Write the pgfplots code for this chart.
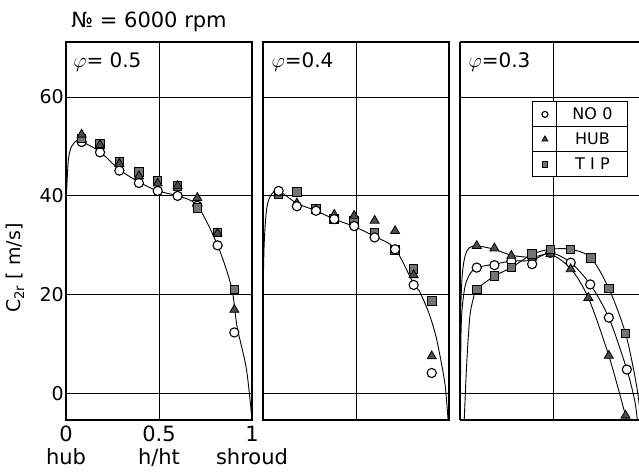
\documentclass[border=0pt]{standalone}
\usepackage{fontspec}
\setmainfont{DejaVu Sans}
\usepackage{pgfplots}
\pgfplotsset{compat=1.18}
\pgfplotsset{
  panel/.style={scale only axis, width=186pt, height=378pt,
    xmin=0, xmax=1, ymin=-5.3, ymax=71.1,
    grid=major, major grid style={black, line width=0.8pt},
    axis line style={line width=1.3pt},
    major tick length=0pt,
    xtick={0,0.5,1}, ytick={0,20,40,60},
    xticklabels={}, yticklabels={}},
  s0/.style={only marks, mark=*, mark size=4.6pt, mark options={fill=white, draw=black, line width=1.1pt}},
  s1/.style={only marks, mark=triangle*, mark size=5.2pt, mark options={fill=black!70, draw=black, line width=0.8pt}},
  s2/.style={only marks, mark=square*, mark size=4.3pt, mark options={fill=black!55, draw=black, line width=1pt}},
  crv/.style={black, line width=0.9pt, smooth, no markers, forget plot},
}
\begin{document}
\begin{tikzpicture}
% ---------- panel 1 ----------
\begin{axis}[panel, at={(0pt,0pt)}, anchor=south west,
  xticklabels={{0\\hub},{0.5\\h/ht},{1\\shroud}},
  yticklabels={0,20,40,60},
  xticklabel style={align=center, font=\fontsize{21}{23}\selectfont, inner sep=2pt, yshift=-4pt},
  yticklabel style={font=\fontsize{19}{22}\selectfont, inner sep=2pt},
  clip mode=individual]
\addplot[crv] coordinates {(0,38)(0.012,47)(0.03,50)(0.06,51.2)(0.084,51)(0.183,48.9)(0.287,45.3)(0.392,42.8)(0.493,41)(0.6,40)(0.706,38)(0.815,30)(0.89,21.5)(0.92,13.5)(0.97,5)(1,-5.3)};
\addplot[s0] coordinates {(0.084,50.9)(0.183,48.8)(0.287,45.1)(0.392,42.6)(0.493,41.0)(0.600,40.0)(0.706,38.0)(0.815,30.0)(0.905,12.4)};
\addplot[s2] coordinates {(0.084,51.6)(0.183,50.5)(0.287,46.8)(0.392,44.8)(0.493,43.1)(0.600,42.0)(0.706,37.6)(0.815,32.6)(0.905,21.1)};
\addplot[s1] coordinates {(0.084,52.4)(0.183,50.3)(0.287,46.5)(0.392,44.0)(0.493,42.5)(0.600,42.0)(0.706,39.6)(0.815,32.4)(0.905,17.0)};
\node[anchor=west, font=\fontsize{21}{24}\selectfont] at (rel axis cs:0.01,1.053) {№ = 6000 rpm};
\node[anchor=west, font=\fontsize{20}{22}\selectfont] at (rel axis cs:0.02,0.947) {$\varphi$= 0.5};
\node[rotate=90, font=\fontsize{19}{22}\selectfont] at (rel axis cs:-0.274,0.402) {C\textsubscript{2r} [ m/s]};
\end{axis}
% ---------- panel 2 ----------
\begin{axis}[panel, at={(197pt,0pt)}, anchor=south west]
\addplot[crv] coordinates {(0,18)(0.006,30)(0.02,37.5)(0.045,40.3)(0.084,41)(0.182,38.5)(0.285,37)(0.383,35.3)(0.49,33.8)(0.6,31.8)(0.71,29.3)(0.81,22.2)(0.84,20.8)(0.89,16.5)(0.93,11.6)(0.96,6)(0.98,1.5)(0.995,-5.3)};
\addplot[s2] coordinates {(0.084,40.4)(0.182,40.8)(0.285,37.3)(0.383,35.3)(0.49,35.0)(0.60,32.5)(0.71,29.0)(0.81,25.2)(0.907,18.7)};
\addplot[s1] coordinates {(0.084,40.5)(0.182,38.5)(0.285,37.0)(0.383,36.2)(0.49,36.0)(0.60,35.0)(0.71,32.9)(0.81,24.0)(0.907,7.6)};
\addplot[s0] coordinates {(0.084,41.0)(0.182,37.9)(0.285,37.0)(0.383,35.3)(0.49,33.9)(0.60,31.6)(0.71,29.2)(0.81,22.0)(0.907,4.2)};
\node[anchor=west, font=\fontsize{20}{22}\selectfont] at (rel axis cs:0.027,0.947) {$\varphi$=0.4};
\end{axis}
% ---------- panel 3 ----------
\begin{axis}[panel, at={(394pt,0pt)}, anchor=south west, width=179pt, xmax=0.9624,
  xtick={0,0.5}, axis x line*=box, axis y line*=left,
  legend style={at={(axis cs:0.392,59)}, anchor=north west, draw=none, fill=none,
    inner sep=0pt, outer sep=0pt, row sep=0pt, column sep=0pt,
    font=\fontsize{16}{18}\selectfont,
    nodes={inner sep=0pt, text width=71pt, align=center, minimum height=25pt}},
  legend image code/.code={%
    \pgfpathrectangle{\pgfpoint{0pt}{-12.5pt}}{\pgfpoint{24pt}{25pt}}\pgfusepath{use as bounding box}%
    \draw[#1, /tikz/every mark/.append style={scale=0.65}] plot coordinates {(12pt,0pt)};}]
\addplot[crv] coordinates {(0,5)(0.003,16)(0.012,24)(0.027,27.8)(0.05,29.5)(0.09,29.9)(0.185,29.2)(0.276,28)(0.388,27.6)(0.486,28.2)(0.595,25.3)(0.69,19.4)(0.80,7.7)(0.89,-4.4)(0.9,-6)};
\addplot[crv] coordinates {(0.001,-6)(0.004,8)(0.009,16)(0.027,21.7)(0.055,24.3)(0.09,25.5)(0.185,26.2)(0.276,26.8)(0.388,27.0)(0.486,28.5)(0.595,26.5)(0.70,22.1)(0.80,15.4)(0.897,4.9)(0.94,-1.5)(0.955,-6)};
\addplot[crv] coordinates {(0.022,-6)(0.032,3)(0.042,10)(0.054,16)(0.07,19)(0.09,21.1)(0.185,23.8)(0.276,25.5)(0.388,28.2)(0.486,29.2)(0.595,29.2)(0.703,27.5)(0.80,21.3)(0.89,12.2)(0.95,1.5)(0.975,-6)};
\draw[fill=white, line width=1pt] (axis cs:0.392,59) rectangle (axis cs:0.9028,43.84);
\draw[line width=1pt] (axis cs:0.392,53.95) -- (axis cs:0.9028,53.95);
\draw[line width=1pt] (axis cs:0.392,48.89) -- (axis cs:0.9028,48.89);
\draw[line width=1pt] (axis cs:0.521,59) -- (axis cs:0.521,43.84);
\addplot[s0] coordinates {(0.09,25.5)(0.185,26.0)(0.276,26.8)(0.388,26.2)(0.486,28.5)(0.595,26.5)(0.70,22.1)(0.80,15.4)(0.897,4.9)};
\addlegendentry{NO 0}
\addplot[s1] coordinates {(0.09,29.9)(0.185,29.4)(0.276,27.9)(0.388,27.5)(0.486,28.2)(0.595,25.2)(0.69,19.4)(0.80,7.7)(0.89,-4.4)};
\addlegendentry{HUB}
\addplot[s2] coordinates {(0.09,21.1)(0.185,23.8)(0.276,25.5)(0.388,28.2)(0.486,29.2)(0.595,29.2)(0.703,27.5)(0.80,21.3)(0.89,12.2)};
\addlegendentry{T I P}
\node[anchor=west, font=\fontsize{20}{22}\selectfont] at (rel axis cs:0.028,0.947) {$\varphi$=0.3};
\end{axis}
\pgfresetboundingbox
\useasboundingbox (-66pt,-53pt) rectangle (573pt,420pt);
\end{tikzpicture}
\end{document}
